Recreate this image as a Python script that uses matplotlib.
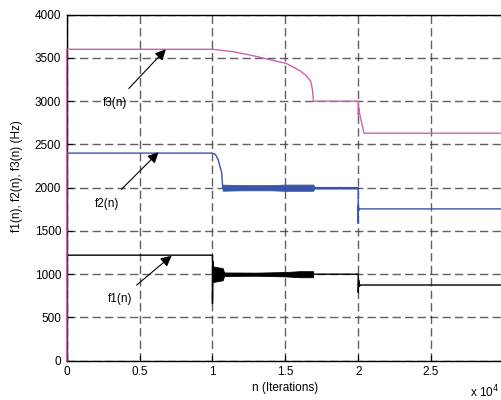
import matplotlib
matplotlib.use("Agg")
import matplotlib.pyplot as plt
import numpy as np

# ---- data (n in units of 1e4 iterations, frequencies in Hz) ----
f3_n = [0, 0, 1.0, 1.143, 1.28, 1.373, 1.505, 1.60, 1.647, 1.675, 1.686, 1.693,
        2.0, 2.0, 2.005, 2.01, 2.02, 2.03, 2.04, 3.0]
f3_v = [0, 3600, 3600, 3572, 3526, 3488, 3438, 3353, 3291, 3225, 3130, 3000,
        3000, 2840, 2920, 2850, 2780, 2700, 2630, 2630]

f2_n = [0, 0, 1.0, 1.02, 1.04, 1.064, 1.07, 1.69, 2.0, 2.0, 2.0, 2.005, 2.01, 3.0]
f2_v = [0, 2400, 2400, 2385, 2320, 2166, 2000, 2000, 2000, 1590, 1800, 1740, 1755, 1755]

f2_band_n = [1.07, 1.2, 1.4, 1.5, 1.6, 1.69, 1.70, 2.0]
f2_band_hi = [2035, 2030, 2030, 2036, 2036, 2036, 2010, 2010]
f2_band_lo = [1965, 1970, 1970, 1964, 1964, 1964, 1990, 1990]

f1_n = [0, 0, 1.0, 1.0, 1.003, 1.006, 1.07, 1.69, 2.0, 2.0, 2.003, 2.008, 2.015, 3.0]
f1_v = [0, 1220, 1220, 660, 1150, 1000, 1000, 1000, 1000, 790, 930, 860, 875, 875]

f1_band_n = [1.005, 1.07, 1.08, 1.3, 1.5, 1.6, 1.69]
f1_band_hi = [1090, 1070, 1020, 1018, 1025, 1035, 1035]
f1_band_lo = [910, 930, 980, 982, 975, 965, 965]

xticks = [0, 0.5, 1, 1.5, 2, 2.5, 3]
xtick_labels = ["0", "0.5", "1", "1.5", "2", "2.5", ""]
yticks = [0, 500, 1000, 1500, 2000, 2500, 3000, 3500, 4000]

labels = ["f1(n)", "f2(n)", "f3(n)"]
label_text_xy = [(0.364, 710), (0.275, 1812), (0.33, 2975)]
label_tip_xy = [(0.72, 1214), (0.63, 2410), (0.68, 3600)]

C_MAG = "#cc62b0"
C_BLUE = "#3a55a8"
C_BLACK = "#000000"

plt.rcParams["font.family"] = ["Liberation Sans", "DejaVu Sans"]
fig = plt.figure(figsize=(5.01, 4.0), dpi=100)
W, H = 501, 400
ax = fig.add_axes([66.7 / W, (H - 360.7) / H, 437.3 / W, 346.0 / H])

ax.plot(f1_n, f1_v, color=C_BLACK, lw=1.0, zorder=3, clip_on=False)
ax.fill_between(f1_band_n, f1_band_lo, f1_band_hi, color=C_BLACK, lw=0.6, zorder=3)
ax.plot(f2_n, f2_v, color=C_BLUE, lw=1.0, zorder=3, clip_on=False)
ax.fill_between(f2_band_n, f2_band_lo, f2_band_hi, color=C_BLUE, lw=0.6, zorder=3)
ax.plot(f3_n, f3_v, color=C_MAG, lw=1.0, zorder=3, clip_on=False)

ax.set_xlim(0, 3)
ax.set_ylim(0, 4000)
ax.set_xticks(xticks)
ax.set_xticklabels(xtick_labels)
ax.set_yticks(yticks)
ax.tick_params(direction="in", length=4, width=0.8, labelsize=8.5, pad=4)
ax.grid(True, color="#444444", linestyle=(0, (6, 3)), linewidth=1.0, alpha=0.85)
for s in ax.spines.values():
    s.set_linewidth(1.0)

for lab, txy, tip in zip(labels, label_text_xy, label_tip_xy):
    ax.annotate(lab, xy=tip, xytext=txy, fontsize=8.5, ha="center", va="center",
                arrowprops=dict(arrowstyle="-|>", color="black", lw=0.8,
                                mutation_scale=16, shrinkA=6, shrinkB=0))

ax.set_xlabel("n (Iterations)", fontsize=8.5, labelpad=3)
ax.set_ylabel("f1(n), f2(n), f3(n) (Hz)", fontsize=8.5)
ax.yaxis.set_label_coords(-0.100, 0.534)
fig.text(470 / W, 1 - 392 / H, "x 10$^4$", fontsize=8.5, ha="left", va="center")

fig.savefig("out.png", dpi=100)
